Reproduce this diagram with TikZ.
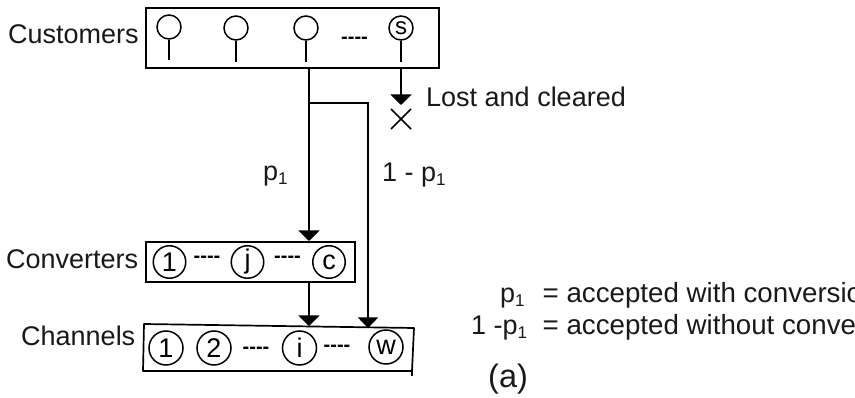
\documentclass[tikz,border=0pt]{standalone}
\usepackage{fontspec}
\setmainfont{Liberation Sans}
\usetikzlibrary{arrows.meta}
\newcommand{\psub}{p\textsubscript{\fontsize{17}{17}\selectfont 1}}
\newcommand{\fourdash}{{-}{-}{-}{-}}
\tikzset{
  lab/.style={anchor=base west,inner sep=0pt,font=\fontsize{27}{30}\selectfont,text=black!90},
  leg/.style={anchor=base west,inner sep=0pt,font=\fontsize{27.7}{30}\selectfont,text=black!90},
  sm/.style={circle,draw,line width=1.5pt,minimum size=24pt,inner sep=0pt,font=\fontsize{24}{24}\selectfont},
  big/.style={circle,draw,line width=1.5pt,minimum size=32.5pt,inner sep=0pt,font=\fontsize{27}{27}\selectfont},
  boxn/.style={draw,line width=1.7pt,inner sep=0pt,anchor=north west},
  line/.style={line width=1.7pt},
  arr/.style={line width=1.7pt,-{Triangle[width=21pt,length=10.5pt]}},
  dots/.style={inner sep=0pt,font=\fontsize{20}{20}\bfseries\selectfont}
}
\begin{document}
\begin{tikzpicture}[x=1pt,y=-1pt]
\useasboundingbox (0,0) rectangle (855,398);
\clip (0,0) rectangle (855,398);
% boxes
\node[boxn,minimum width=293pt,minimum height=60pt] (cust) at (145,7) {};
\node[boxn,minimum width=209pt,minimum height=40pt] (conv) at (145,241) {};
\coordinate (chA) at (144,324);
\coordinate (chB) at (414,328);
\coordinate (chC) at (412,371);
\coordinate (chD) at (143,371);
\coordinate (chE) at (412,376);
\draw[line,line join=round] (chA) -- (chB) -- (chC) -- (chD) -- cycle;
\draw[line width=1.2pt] (chC) -- (chE);
% customers
\node[sm] (s1) at (169,27) {};
\node[sm] (s2) at (236,28) {};
\node[sm] (s3) at (306,28) {};
\node[sm] (s4) at (401,28) {s};
\coordinate (e1) at (169,60);
\coordinate (e2) at (236,62);
\coordinate (e3) at (306,62);
\coordinate (e4) at (401,62);
\draw[line] (s1.south) -- (e1);
\draw[line] (s2.south) -- (e2);
\draw[line] (s3.south) -- (e3);
\draw[line] (s4.south) -- (e4);
\node[dots] (d0) at (354.5,40) {\fourdash};
% converters
\node[big] (c1) at (169.5,262) {1};
\node[big] (c2) at (247.5,262) {j};
\node[big] (c3) at (329,262) {c};
\node[dots] (d1) at (207,259.5) {\fourdash};
\node[dots] (d2) at (287.5,259.5) {\fourdash};
% channels
\node[big,minimum size=34pt] (w1) at (166,348) {1};
\node[big,minimum size=34pt] (w2) at (214,348) {2};
\node[big,minimum size=34pt] (w3) at (299.5,348) {i};
\node[big,minimum size=34pt] (w4) at (386,347) {w};
\node[dots] (d3) at (256,350) {\fourdash};
\node[dots] (d4) at (337,348) {\fourdash};
% connectors
\coordinate (t0) at (309,67);
\coordinate (t1) at (309,103);
\coordinate (t2) at (368,103);
\coordinate (t3) at (309,241);
\coordinate (t4) at (368,328);
\coordinate (t5) at (309,281);
\coordinate (t6) at (309,326);
\coordinate (l0) at (401,67);
\coordinate (l1) at (401,105);
\draw[arr] (t0) -- (t3);
\draw[arr,-{Triangle[width=20pt,length=10.5pt]},line join=miter] (t1) -- (t2) -- (t4);
\draw[arr] (t5) -- (t6);
\draw[arr] (l0) -- (l1);
% X mark
\coordinate (xa) at (391,109);
\coordinate (xb) at (411,129);
\coordinate (xc) at (411,109);
\coordinate (xd) at (391,129);
\draw[line] (xa) -- (xb);
\draw[line] (xc) -- (xd);
% labels
\node[lab] (lc) at (8,44) {Customers};
\node[lab] (lv) at (6,269) {Converters};
\node[lab] (lh) at (21,346) {Channels};
\node[lab] (ll) at (426,107) {Lost and cleared};
\node[lab] (lp) at (263,181) {\psub};
\node[lab] (lq) at (382,182) {1 - \psub};
\node[lab] (k1) at (500,302.5) {\psub};
\node[lab] (k2) at (471,334.5) {1 -\psub};
\node[leg] (k3) at (542.5,302.5) {= accepted with conversion};
\node[leg] (k4) at (542.5,334.5) {= accepted without conversion};
\node[lab,font=\fontsize{32.5}{34}\selectfont] (k5) at (488,388) {(a)};
\end{tikzpicture}
\end{document}
